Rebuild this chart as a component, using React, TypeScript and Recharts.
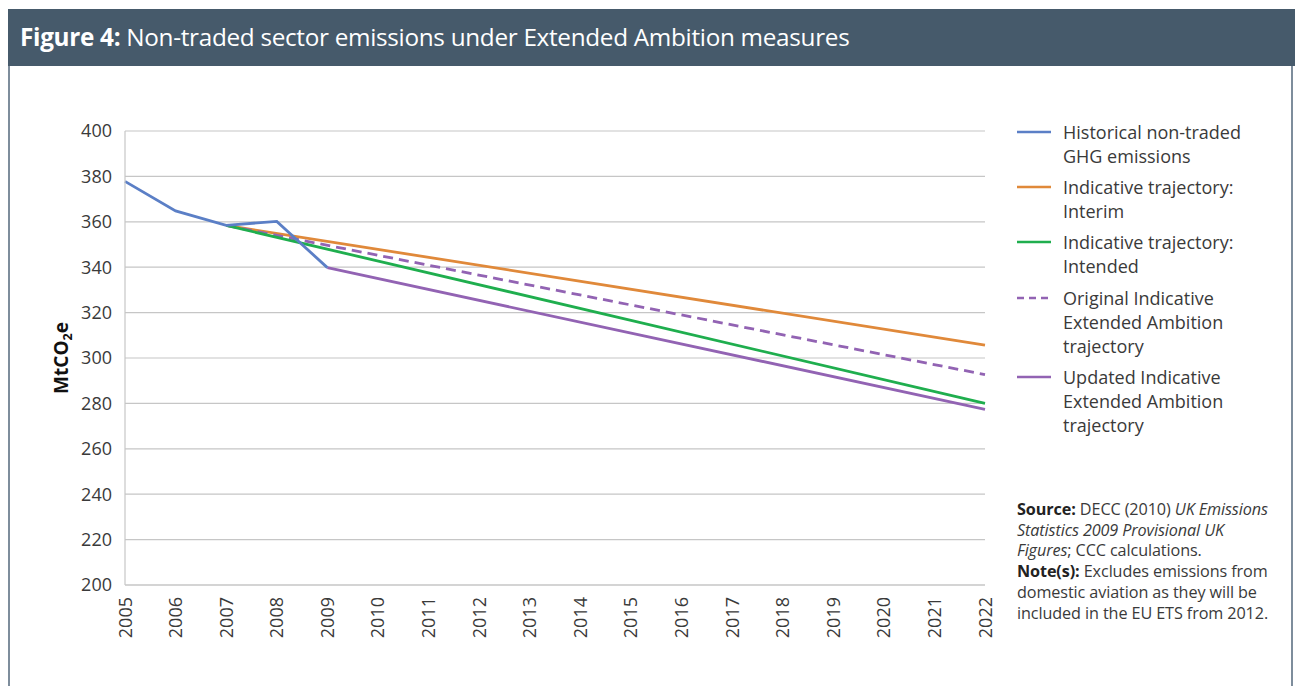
import React from 'react';
import { LineChart, Line, XAxis, YAxis, CartesianGrid } from 'recharts';

const years = [2005, 2006, 2007, 2008, 2009, 2010, 2011, 2012, 2013, 2014, 2015, 2016, 2017, 2018, 2019, 2020, 2021, 2022];
const yTicks = [200, 220, 240, 260, 280, 300, 320, 340, 360, 380, 400];

// values; null = no point for that year
const historical: (number | null)[] = [377.8, 364.8, 358.4, 360.2, 339.8, null, null, null, null, null, null, null, null, null, null, null, null, null];
const interim: (number | null)[] = [null, null, 358.4, null, null, null, null, null, null, null, null, null, null, null, null, null, null, 305.7];
const intended: (number | null)[] = [null, null, 358.4, null, null, null, null, null, null, null, null, null, null, null, null, null, null, 280.0];
const originalEA: (number | null)[] = [null, null, 358.4, null, null, null, null, null, null, null, null, null, null, null, null, null, null, 292.7];
const updatedEA: (number | null)[] = [null, null, null, null, 339.8, null, null, null, null, null, null, null, null, null, null, null, null, 277.4];

const data = years.map((y, i) => ({
  year: y,
  historical: historical[i],
  interim: interim[i],
  intended: intended[i],
  originalEA: originalEA[i],
  updatedEA: updatedEA[i],
}));

const C_BLUE = '#5b7fc6';
const C_ORANGE = '#e0893a';
const C_GREEN = '#1fae4e';
const C_PURPLE = '#9263b3';

const legendItems = [
  { lines: ['Historical non-traded', 'GHG emissions'], color: C_BLUE, dashed: false },
  { lines: ['Indicative trajectory:', 'Interim'], color: C_ORANGE, dashed: false },
  { lines: ['Indicative trajectory:', 'Intended'], color: C_GREEN, dashed: false },
  { lines: ['Original Indicative', 'Extended Ambition', 'trajectory'], color: C_PURPLE, dashed: true },
  { lines: ['Updated Indicative', 'Extended Ambition', 'trajectory'], color: C_PURPLE, dashed: false },
];

const FONT = '"Open Sans", "Noto Sans", sans-serif';
const TEXT = '#3a3a3a';
const TICK_FS = 18;

const XTick = (props: any) => {
  const { x, y, payload } = props;
  return (
    <text
      transform={`translate(${x + 6.5},${y + 12}) rotate(-90)`}
      textAnchor="end"
      fontSize={TICK_FS}
      fontFamily={FONT}
      fill={TEXT}
    >
      {payload.value}
    </text>
  );
};

export default function App() {
  return (
    <div style={{ position: 'absolute', left: 0, top: 0, width: 1295, height: 686, background: '#fff', overflow: 'hidden', fontFamily: FONT }}>
      {/* header */}
      <div style={{ position: 'absolute', left: 8, top: 9, width: 1287, height: 57, background: '#465a6b' }} />
      <div style={{ position: 'absolute', left: 20, top: 9, height: 57, lineHeight: '56px', color: '#fff', fontSize: 24.3, whiteSpace: 'nowrap', letterSpacing: -0.3 }}>
        <b>Figure 4:</b> Non-traded sector emissions under Extended Ambition measures
      </div>
      {/* frame borders */}
      <div style={{ position: 'absolute', left: 8, top: 66, width: 2, height: 620, background: '#7e8d9c' }} />
      <div style={{ position: 'absolute', left: 1291, top: 66, width: 2, height: 620, background: '#7e8d9c' }} />

      <div style={{ position: 'absolute', left: 0, top: 0 }}>
        <LineChart width={1295} height={686} data={data} margin={{ top: 131, right: 310, bottom: 41, left: 40 }}>
          <CartesianGrid vertical={false} stroke="#c6c6c6" strokeWidth={1.2} />
          <XAxis
            dataKey="year"
            type="number"
            domain={[2005, 2022]}
            ticks={years}
            interval={0}
            tickLine={false}
            tickSize={0}
            tickMargin={0}
            height={60}
            axisLine={{ stroke: '#c6c6c6', strokeWidth: 1.2 }}
            tick={<XTick />}
          />
          <YAxis
            domain={[200, 400]}
            ticks={yTicks}
            interval={0}
            width={85}
            tickLine={false}
            tickSize={0}
            tickMargin={13}
            axisLine={{ stroke: '#c6c6c6', strokeWidth: 1.2 }}
            tick={{ fontSize: TICK_FS, fontFamily: FONT, fill: TEXT }}
          />
          <Line dataKey="interim" stroke={C_ORANGE} strokeWidth={2.8} dot={false} connectNulls isAnimationActive={false} />
          <Line dataKey="originalEA" stroke={C_PURPLE} strokeWidth={2.8} strokeDasharray="10 6" dot={false} connectNulls isAnimationActive={false} />
          <Line dataKey="intended" stroke={C_GREEN} strokeWidth={2.8} dot={false} connectNulls isAnimationActive={false} />
          <Line dataKey="updatedEA" stroke={C_PURPLE} strokeWidth={2.8} dot={false} connectNulls isAnimationActive={false} />
          <Line dataKey="historical" stroke={C_BLUE} strokeWidth={2.8} dot={false} isAnimationActive={false} />
        </LineChart>
      </div>

      {/* y axis title */}
      <svg style={{ position: 'absolute', left: 0, top: 0 }} width={120} height={686}>
        <text transform="translate(68,358) rotate(-90)" textAnchor="middle" fontFamily={FONT} fontWeight="bold" fontSize={19} fill="#111">
          MtCO<tspan fontSize={12.5} dy={4}>2</tspan><tspan dy={-4}>e</tspan>
        </text>
      </svg>

      {/* legend */}
      <div style={{ position: 'absolute', left: 1017, top: 120, width: 275 }}>
        {legendItems.map((it, i) => (
          <div key={i} style={{ position: 'relative', marginBottom: 7 }}>
            <svg style={{ position: 'absolute', left: 0, top: 10 }} width={34} height={4}>
              <line x1={0} y1={2} x2={34} y2={2} stroke={it.color} strokeWidth={2.5} strokeDasharray={it.dashed ? '7 5' : undefined} />
            </svg>
            <div style={{ marginLeft: 46, fontSize: 18, lineHeight: '24.1px', color: TEXT, whiteSpace: 'nowrap' }}>
              {it.lines.map((l, j) => (
                <div key={j}>{l}</div>
              ))}
            </div>
          </div>
        ))}
      </div>

      {/* source */}
      <div style={{ position: 'absolute', left: 1017, top: 499, width: 272, fontSize: 16.2, lineHeight: '20.7px', color: TEXT, whiteSpace: 'nowrap', letterSpacing: -0.1 }}>
        <div><b style={{ color: '#222' }}>Source:</b> DECC (2010) <i>UK Emissions</i></div>
        <div><i>Statistics 2009 Provisional UK</i></div>
        <div><i>Figures</i>; CCC calculations.</div>
        <div><b style={{ color: '#222' }}>Note(s):</b> Excludes emissions from</div>
        <div>domestic aviation as they will be</div>
        <div>included in the EU ETS from 2012.</div>
      </div>
    </div>
  );
}
